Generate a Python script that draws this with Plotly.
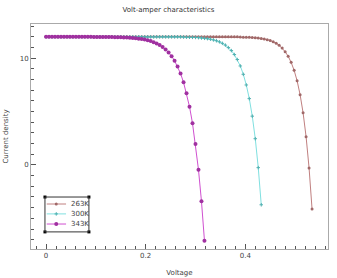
import plotly.graph_objects as go

# Shared voltage grid (V)
voltage = [0.000, 0.006, 0.012, 0.018, 0.024, 0.030, 0.036, 0.042, 0.048, 0.054,
           0.060, 0.066, 0.072, 0.078, 0.084, 0.090, 0.096, 0.102, 0.108, 0.114,
           0.120, 0.126, 0.132, 0.138, 0.144, 0.150, 0.156, 0.162, 0.168, 0.174,
           0.180, 0.186, 0.192, 0.198, 0.204, 0.210, 0.216, 0.222, 0.228, 0.234,
           0.240, 0.246, 0.252, 0.258, 0.264, 0.270, 0.276, 0.282, 0.288, 0.294,
           0.300, 0.306, 0.312, 0.318, 0.324, 0.330, 0.336, 0.342, 0.348, 0.354,
           0.360, 0.366, 0.372, 0.378, 0.384, 0.390, 0.396, 0.402, 0.408, 0.414,
           0.420, 0.426, 0.432, 0.438, 0.444, 0.450, 0.456, 0.462, 0.468, 0.474,
           0.480, 0.486, 0.492, 0.498, 0.504, 0.510, 0.516, 0.522, 0.528, 0.534]

# 263K current density (90 points)
current_263 = [12.0] * 65 + [
    11.98, 11.97, 11.96, 11.95, 11.93, 11.91, 11.88, 11.84, 11.79, 11.73,
    11.65, 11.53, 11.39, 11.20, 10.95, 10.61, 10.18, 9.61, 8.86, 7.88,
    6.58, 4.89, 2.65, -0.28, -4.13]

# 300K current density (73 points)
current_300 = [12.0] * 46 + [
    11.98, 11.97, 11.96, 11.95, 11.94, 11.92, 11.89, 11.86, 11.83, 11.78,
    11.71, 11.63, 11.53, 11.39, 11.22, 10.99, 10.71, 10.34, 9.87, 9.27,
    8.49, 7.49, 6.21, 4.57, 2.46, -0.25, -3.73]

# 343K current density (54 points)
current_343 = [12.0] * 16 + [11.99] * 5 + [
    11.98, 11.98, 11.97, 11.96, 11.95, 11.94, 11.93, 11.91, 11.89, 11.86,
    11.83, 11.79, 11.74, 11.67, 11.60, 11.50, 11.38, 11.23, 11.05, 10.82,
    10.54, 10.19, 9.76, 9.22, 8.56, 7.74, 6.72, 5.46, 3.90, 1.96,
    -0.44, -3.41, -7.09]

series_names = ["263K", "300K", "343K"]
x_ticks = [0, 0.2, 0.4]
y_ticks = [0, 10]

FONT = "DejaVu Sans"
styles = [
    dict(line=dict(color="#c08080", width=1),
         marker=dict(symbol="circle", size=3, color="#a06868")),
    dict(line=dict(color="#80e0e0", width=1),
         marker=dict(symbol="cross-thin", size=2.5, color="#50b0b0",
                     line=dict(color="#50b0b0", width=1))),
    dict(line=dict(color="#d050d0", width=1),
         marker=dict(symbol="circle", size=4, color="#a030a0")),
]
series = [current_263, current_300, current_343]

fig = go.Figure()
for name, cur, st in zip(series_names, series, styles):
    fig.add_trace(go.Scatter(x=voltage[:len(cur)], y=cur, name=name,
                             mode="lines+markers", showlegend=False, **st))

# Compact legend drawn on an overlay axis spanning the plot area (0..1)
leg_x0, leg_x1 = 0.047, 0.195
leg_y0, leg_y1 = 0.076, 0.231
row_y = [0.200, 0.156, 0.111]
for name, yy, st in zip(series_names, row_y, styles):
    fig.add_trace(go.Scatter(x=[0.053, 0.118], y=[yy, yy], mode="lines",
                             line=st["line"], xaxis="x2", yaxis="y2",
                             showlegend=False, hoverinfo="skip"))
    fig.add_trace(go.Scatter(x=[0.085], y=[yy], mode="markers",
                             marker=st["marker"], xaxis="x2", yaxis="y2",
                             showlegend=False, hoverinfo="skip"))
    fig.add_annotation(x=0.128, y=yy, xref="x2", yref="y2", text=name,
                       showarrow=False, xanchor="left", yanchor="middle",
                       font=dict(size=7, color="#444444", family=FONT))
fig.add_shape(type="rect", xref="x2", yref="y2", x0=leg_x0, x1=leg_x1,
              y0=leg_y0, y1=leg_y1, line=dict(color="#333333", width=1))
fig.add_trace(go.Scatter(x=[leg_x0, leg_x1, leg_x0, leg_x1],
                         y=[leg_y0, leg_y0, leg_y1, leg_y1], mode="markers",
                         marker=dict(symbol="square", size=3, color="black"),
                         xaxis="x2", yaxis="y2", showlegend=False, hoverinfo="skip"))

axis_common = dict(
    showgrid=False, zeroline=False, showline=True, mirror=True,
    linecolor="#aaaaaa", linewidth=1, automargin=False,
    ticks="inside", ticklen=5, tickcolor="#555555", tickwidth=1,
    tickfont=dict(size=7, color="#444444", family=FONT),
)

xaxis = dict(axis_common, range=[-0.0302, 0.566], tickvals=x_ticks,
             ticktext=["0", "0.2", "0.4"],
             minor=dict(dtick=0.02, tick0=0, ticks="inside", ticklen=3, tickcolor="#555555"),
             title=dict(text="Voltage", font=dict(size=7, color="#444444", family=FONT), standoff=10))
yaxis = dict(axis_common, range=[-7.87, 13.2], tickvals=y_ticks,
             ticktext=["0", "10"],
             minor=dict(dtick=1, tick0=0, ticks="inside", ticklen=3, tickcolor="#555555"),
             title=dict(text="Current density", font=dict(size=7, color="#444444", family=FONT), standoff=10))

fig.update_layout(
    width=337, height=278,
    margin=dict(l=31, r=9, t=24, b=29),
    paper_bgcolor="white", plot_bgcolor="white",
    title=dict(text="Volt-amper characteristics", x=0.5, xanchor="center", y=0.967, yanchor="middle",
               font=dict(size=7, color="#333333", family=FONT)),
    showlegend=False,
    xaxis=xaxis, yaxis=yaxis,
    xaxis2=dict(range=[0, 1], overlaying="x", anchor="y2", visible=False, fixedrange=True),
    yaxis2=dict(range=[0, 1], overlaying="y", anchor="x2", visible=False, fixedrange=True),
)

fig.write_html("out.html", config={"displayModeBar": False},
               post_script="document.body.style.margin='0';document.body.style.padding='0';")
